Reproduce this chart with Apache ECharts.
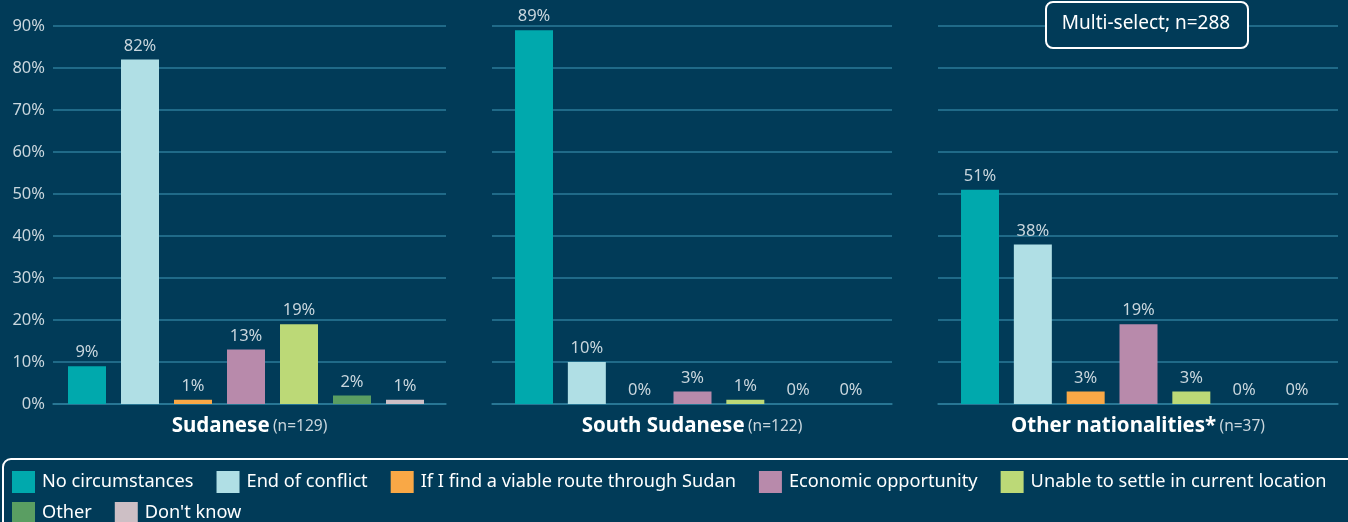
<!DOCTYPE html>
<html>
<head>
<meta charset="utf-8">
<script src="https://cdn.jsdelivr.net/npm/echarts@6/dist/echarts.min.js"></script>
<style>
  html, body { margin: 0; padding: 0; background: #013b58; }
  #app { width: 1348px; height: 522px; }
</style>
</head>
<body>
<div id="app"></div>
<script>
const app = document.getElementById('app')
const echart = echarts.init(app)

const categories = [
  'No circumstances',
  'End of conflict',
  'If I find a viable route through Sudan',
  'Economic opportunity',
  'Unable to settle in current location',
  'Other',
  "Don't know"
]
const colors = ['#00a9ad', '#b0dfe5', '#f9a846', '#b88aab', '#bcd977', '#5a9e62', '#cdbfc5']
const groups = ['Sudanese', 'South Sudanese', 'Other nationalities*']
const groupN = ['(n=129)', '(n=122)', '(n=37)']
const sudanese = [9, 82, 1, 13, 19, 2, 1]
const southSudanese = [89, 10, 0, 3, 1, 0, 0]
const otherNationalities = [51, 38, 3, 19, 3, 0, 0]
const values = [sudanese, southSudanese, otherNationalities]
const yTicks = [0, 10, 20, 30, 40, 50, 60, 70, 80, 90]

const FONT = 'Noto Sans'
const TXT = '#c9d6dd'
const GRIDLINE = '#2b7b98'

// gridline panels (wide) and bar panels (narrow)
const lineGrids = [[53, 446], [492, 892], [938, 1338]]
const barGrids = [[60.5, 431.5], [507.6, 877.4], [953.6, 1323.4]]
const TOP = 26
const BOTTOM = 118

const grid = []
const xAxis = []
const yAxis = []
const series = []

lineGrids.forEach((g, i) => {
  grid.push({ left: g[0], width: g[1] - g[0], top: TOP, bottom: BOTTOM })
  xAxis.push({
    type: 'category',
    gridIndex: grid.length - 1,
    data: [''],
    axisTick: { show: false },
    axisLabel: { show: false },
    axisLine: { lineStyle: { color: GRIDLINE, width: 1.5 } },
    name: `{b|${groups[i]}} {n|${groupN[i]}}`,
    nameLocation: 'middle',
    nameGap: 12,
    nameTextStyle: {
      rich: {
        b: { fontFamily: FONT, fontSize: 20.5, fontWeight: 'bold', color: '#ffffff' },
        n: { fontFamily: FONT, fontSize: 15.5, color: TXT }
      }
    }
  })
  yAxis.push({
    type: 'value',
    gridIndex: grid.length - 1,
    min: 0,
    max: 90,
    interval: 10,
    axisLine: { show: false },
    axisTick: { show: false },
    axisLabel: {
      show: i === 0,
      formatter: v => yTicks.includes(v) ? v + '%' : '',
      color: TXT,
      fontFamily: FONT,
      fontSize: 16.5,
      margin: 8
    },
    splitLine: { lineStyle: { color: GRIDLINE, width: 1.5 } }
  })
})

barGrids.forEach((g, i) => {
  grid.push({ left: g[0], width: g[1] - g[0], top: TOP, bottom: BOTTOM })
  const gi = grid.length - 1
  xAxis.push({
    type: 'category',
    gridIndex: gi,
    data: categories,
    show: false
  })
  yAxis.push({
    type: 'value',
    gridIndex: gi,
    min: 0,
    max: 90,
    interval: 10,
    show: false,
    splitLine: { show: false }
  })
  categories.forEach((c, k) => {
    series.push({
      type: 'bar',
      name: c,
      xAxisIndex: gi,
      yAxisIndex: gi,
      barWidth: 38,
      barGap: '-100%',
      z: 3,
      itemStyle: { color: colors[k] },
      data: values[i].map((v, j) => (j === k ? v : null)),
      label: {
        show: true,
        position: 'top',
        distance: 5,
        formatter: '{c}%',
        color: TXT,
        fontFamily: FONT,
        fontSize: 16.5
      }
    })
  })
})

const legendBase = {
  orient: 'horizontal',
  padding: 0,
  itemWidth: 23,
  itemHeight: 22,
  itemGap: 23,
  icon: 'rect',
  selectedMode: false,
  textStyle: { color: '#ffffff', fontFamily: FONT, fontSize: 18.2, padding: [0, 0, 0, 2] }
}

echart.setOption({
  backgroundColor: '#013b58',
  animation: false,
  grid,
  xAxis,
  yAxis,
  series,
  legend: [
    Object.assign({}, legendBase, { left: 12, top: 471, data: categories.slice(0, 5) }),
    Object.assign({}, legendBase, { left: 12, top: 502, data: categories.slice(5) })
  ],
  graphic: [
    {
      type: 'rect',
      left: 2,
      top: 458,
      z: 1,
      shape: { width: 1370, height: 90, r: 8 },
      style: { fill: 'transparent', stroke: '#ffffff', lineWidth: 2 }
    },
    {
      type: 'rect',
      left: 1045,
      top: 1,
      z: 100,
      shape: { width: 202, height: 46, r: 7 },
      style: { fill: '#013b58', stroke: '#ffffff', lineWidth: 2 }
    },
    {
      type: 'text',
      x: 1146,
      y: 24,
      z: 101,
      style: {
        text: 'Multi-select; n=288',
        align: 'center',
        verticalAlign: 'middle',
        fill: '#ffffff',
        fontFamily: FONT,
        fontSize: 19
      }
    }
  ]
})
</script>
</body>
</html>
